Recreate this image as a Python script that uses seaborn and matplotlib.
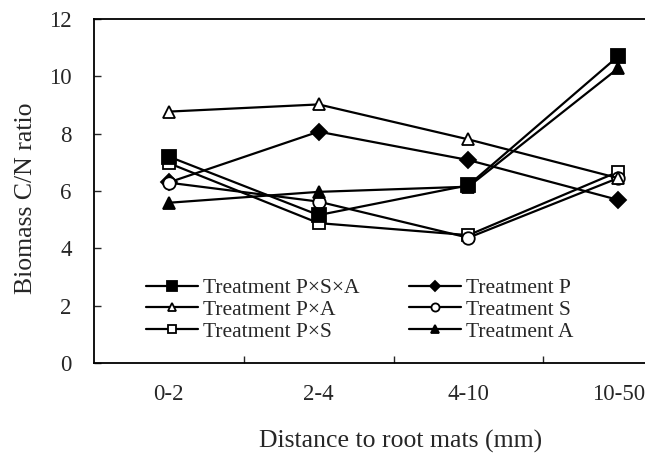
import matplotlib
matplotlib.use("Agg")
import matplotlib.pyplot as plt
import seaborn as sns
import pandas as pd

categories = ["0-2", "2-4", "4-10", "10-50"]
psa = [7.2, 5.16, 6.2, 10.7]
p = [6.3, 8.07, 7.08, 5.69]
pa = [8.77, 9.02, 7.8, 6.45]
s = [6.29, 5.63, 4.37, 6.45]
ps = [6.97, 4.88, 4.46, 6.67]
a = [5.59, 5.97, 6.15, 10.28]

labels = ["Treatment P\u00d7S\u00d7A", "Treatment P", "Treatment P\u00d7A",
          "Treatment S", "Treatment P\u00d7S", "Treatment A"]

sns.set_theme(style="white")
plt.rcParams['font.family'] = ['Liberation Serif', 'DejaVu Serif']

fig = plt.figure(figsize=(6.45, 4.53), dpi=100)
ax = fig.add_axes([94/645, 90/453, 599/645, 344/453])

x = list(range(len(categories)))
series = [
    # (values, label, marker, facecolor, size)
    (ps, labels[4], "s", "white", 9),
    (p, labels[1], "D", "black", 8),
    (s, labels[3], "o", "white", 9),
    (pa, labels[2], "^", "white", 9),
    (a, labels[5], "^", "black", 9),
    (psa, labels[0], "s", "black", 10),
]
handles = {}
for vals, lab, mk, fc, ms in series:
    df = pd.DataFrame({"x": x, "y": vals})
    sns.lineplot(data=df, x="x", y="y", ax=ax, color="black", linewidth=1.6,
                 marker=mk, markersize=ms, markerfacecolor=fc,
                 markeredgecolor="black", markeredgewidth=1.3, label=lab,
                 legend=False)
    handles[lab] = ax.lines[-1]

ax.set_xlim(-0.5, 3.5)
ax.set_ylim(0, 12)
ax.set_yticks(range(0, 13, 2))
ax.set_xticks(x)
ax.set_xticklabels(categories)
ax.set_xticks([0.5, 1.5, 2.5], minor=True)
ax.tick_params(axis="x", which="major", length=0, pad=15, labelsize=16.5)
ax.tick_params(axis="x", which="minor", direction="in", length=5, width=1, bottom=True)
ax.tick_params(axis="y", direction="in", length=5, width=1, pad=16, labelsize=16.5, left=True)
for sp in ax.spines.values():
    sp.set_color("black")
    sp.set_linewidth(1.3)
ax.spines["right"].set_visible(False)

ax.set_xlabel("Distance to root mats (mm)", fontsize=18.5)
ax.set_ylabel("Biomass C/N ratio", fontsize=18.5)
ax.xaxis.set_label_coords(0.5125, -0.195)
ax.yaxis.set_label_coords(-0.095, 0.48)

order = [labels[0], labels[2], labels[4], labels[1], labels[3], labels[5]]
leg = ax.legend([handles[l] for l in order], order, ncol=2, frameon=False,
                loc="lower left", bbox_to_anchor=(0.0868, 0.062), fontsize=15.5,
                markerscale=0.65, handlelength=2.4, handletextpad=0.25,
                labelspacing=0.08, columnspacing=2.3, borderaxespad=0,
                borderpad=0)

fig.savefig("out.png", dpi=100)
